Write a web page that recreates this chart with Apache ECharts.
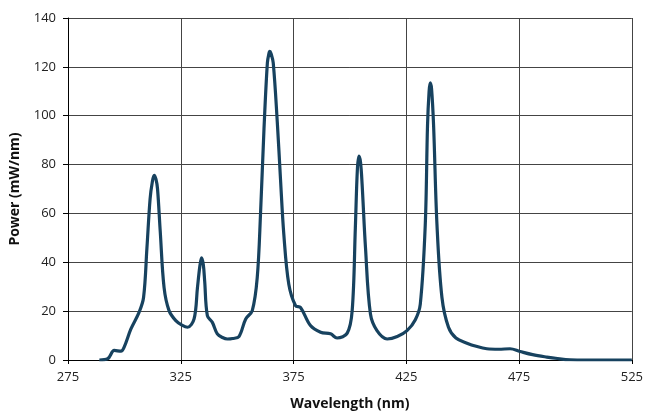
<!DOCTYPE html>
<html>
<head>
<meta charset="utf-8">
<script src="https://cdn.jsdelivr.net/npm/echarts@6/dist/echarts.min.js"></script>
<style>html,body{margin:0;padding:0;background:#fff;}#c{width:646px;height:416px;}</style>
</head>
<body>
<div id="c"></div>
<script>
const wavelength = [288.9,292.6,295.5,298.5,299.9,302.9,306.5,308.5,310,311.4,312.4,313.2,314,314.7,315.9,317.6,319.8,322.8,325.5,328,330.9,332.4,333.4,334.2,335,335.6,336.8,339,341.2,343.5,345.7,348,350.8,353.8,356.7,358.9,360.4,361.9,363.4,364.1,364.5,365,366,367.8,369.2,370.7,372.9,375.9,378.1,382.5,387,391.4,394.3,398.8,401,402.4,403.3,404,404.7,405.4,406.9,409.1,412,416.5,421,425.3,429,431.2,433.4,434.4,435.1,435.6,436.2,437.1,438.6,440.8,443.7,447,451.9,456,460.7,466,471,475.4,481,487.3,492,497.6,505,515,525];
const power = [0,0.5,3.9,3.6,5.3,12.7,19.5,25.6,45.9,66,73,75.6,74,70,52.6,29.6,20.2,16.1,14.3,13.4,16.8,29.6,38,41.8,39,32.3,18.1,15.4,10.7,9.2,8.6,8.8,9.6,16.8,20.2,33.7,60.7,94.6,121.6,125.5,126.3,125.5,121.6,97.3,74.3,51.3,31,22.2,21.5,14.1,11.4,10.7,9,11,20.2,54,78,83.5,81,72,46,18.8,12,8.6,9.6,12,16.5,22.9,55.3,95.9,110,113.5,111,95.9,55.3,25.6,13.4,9,6.9,5.6,4.6,4.4,4.6,3.5,2.2,1.2,0.6,0.1,0,0,0];
const xTickLabels = ['275','325','375','425','475','525'];
const yTickLabels = ['0','20','40','60','80','100','120','140'];
const xOrigin = 275;

const chart = echarts.init(document.getElementById('c'), null, {renderer:'canvas'});
const font = "'Open Sans', 'DejaVu Sans', sans-serif";
chart.setOption({
  animation:false,
  backgroundColor:'#ffffff',
  grid:{left:67,right:14,top:18,bottom:53,containLabel:false},
  xAxis:{
    type:'value', min:0, max:250, interval:50,
    name:'Wavelength (nm)', nameLocation:'middle', nameGap:37,
    nameTextStyle:{fontFamily:font,fontWeight:'bold',fontSize:14,color:'#111'},
    axisLine:{show:true,lineStyle:{color:'#000',width:1}},
    axisTick:{show:true,length:4,lineStyle:{color:'#000'}},
    axisLabel:{fontFamily:font,fontSize:13,color:'#222',margin:11,
      formatter:function(v){const i=Math.round(v/50);return xTickLabels[i]!==undefined?xTickLabels[i]:String(v+xOrigin);}},
    splitLine:{show:true,lineStyle:{color:'#444',width:1}}
  },
  yAxis:{
    type:'value', min:0, max:140, interval:20,
    name:'Power (mW/nm)', nameLocation:'middle', nameGap:46, nameRotate:90,
    nameTextStyle:{fontFamily:font,fontWeight:'bold',fontSize:14,color:'#111'},
    axisLine:{show:true,lineStyle:{color:'#000',width:1}},
    axisTick:{show:true,length:5,lineStyle:{color:'#000'}},
    axisLabel:{fontFamily:font,fontSize:13,color:'#222',margin:12,
      formatter:function(v){const i=Math.round(v/20);return yTickLabels[i]!==undefined?yTickLabels[i]:String(v);}},
    splitLine:{show:true,lineStyle:{color:'#444',width:1}}
  },
  series:[{
    type:'line',
    data: wavelength.map((w,i)=>[w-xOrigin,power[i]]),
    smooth:0.35,
    showSymbol:false,
    lineStyle:{color:'#17425f',width:3.2},
    z:5
  }]
});
</script>
</body>
</html>
